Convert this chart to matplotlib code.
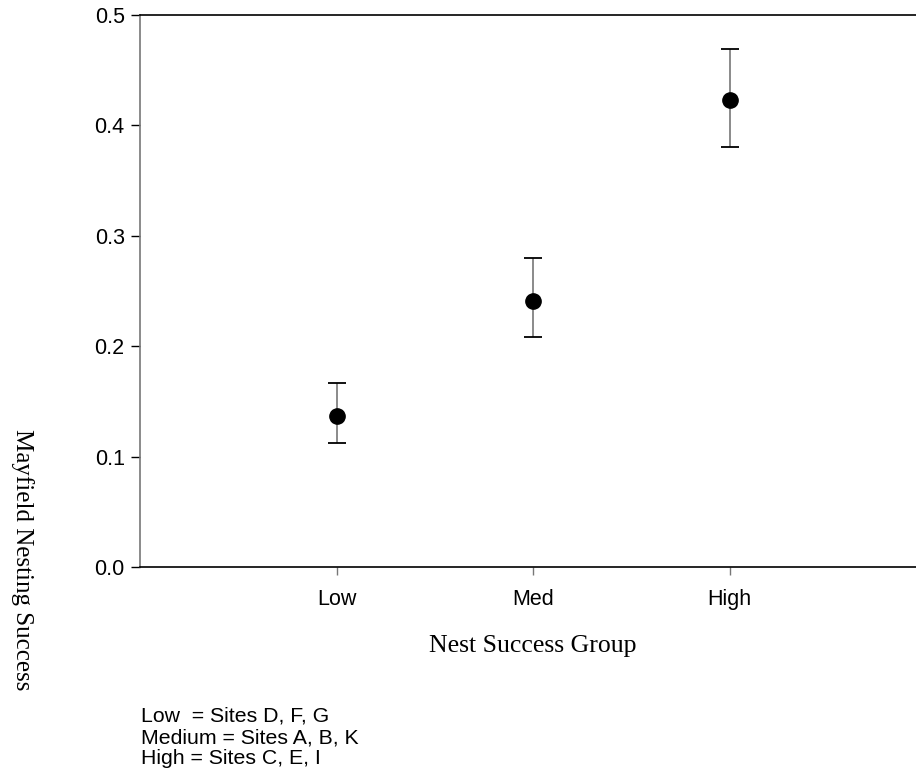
import numpy as np
import matplotlib
matplotlib.use("Agg")
import matplotlib.pyplot as plt

# data
groups = ["Low", "Med", "High"]
success = [0.137, 0.241, 0.423]
upper_limit = [0.167, 0.280, 0.469]
lower_limit = [0.112, 0.208, 0.380]

legend_lines = ["Low  = Sites D, F, G",
                "Medium = Sites A, B, K",
                "High = Sites C, E, I"]

sans = ["Liberation Sans", "DejaVu Sans"]
serif = ["Liberation Serif", "DejaVu Serif"]

x = np.arange(1, len(groups) + 1)
yerr = [np.array(success) - np.array(lower_limit),
        np.array(upper_limit) - np.array(success)]

fig = plt.figure(figsize=(9.16, 7.82), dpi=100)
ax = fig.add_axes([140 / 916, 1 - 567 / 782, 786 / 916, 552 / 782])

# stems grey, caps black
_, caps, bars = ax.errorbar(x, success, yerr=yerr, fmt="none", ecolor="#777777",
                            elinewidth=1.2, capsize=6.5, capthick=1.3, zorder=2)
for c in caps:
    c.set_markeredgecolor("black")
    c.set_color("black")
ax.plot(x, success, "o", color="black", markersize=11, zorder=3)

ax.set_xlim(0, 4)
ax.set_ylim(0, 0.5)
ax.set_yticks([0.0, 0.1, 0.2, 0.3, 0.4, 0.5])
ax.set_yticklabels([f"{v:.1f}" for v in ax.get_yticks()], family=sans, fontsize=15.5)
ax.set_xticks(x)
ax.set_xticklabels(groups, family=sans, fontsize=15.5)

ax.spines["right"].set_visible(False)
ax.spines["left"].set_color("#777777")
ax.spines["top"].set_color("black")
ax.spines["bottom"].set_color("black")
for s in ax.spines.values():
    s.set_linewidth(1.2)

ax.tick_params(axis="y", direction="out", length=6.5, width=1, color="black", pad=4.5)
ax.tick_params(axis="x", direction="out", length=6, width=1, color="#777777", pad=10)

fig.text(533 / 916, 1 - 652 / 782, "Nest Success Group", family=serif,
         fontsize=18.5, ha="center", va="baseline")
fig.text(22 / 916, 1 - 560 / 782, "Mayfield Nesting Success", family=serif,
         fontsize=18, ha="center", va="center", rotation=270)

fig.text(141 / 916, 1 - 707 / 782, "\n".join(legend_lines), family=sans,
         fontsize=15.3, ha="left", va="top", linespacing=1.15)

fig.savefig("out.png", dpi=100)
